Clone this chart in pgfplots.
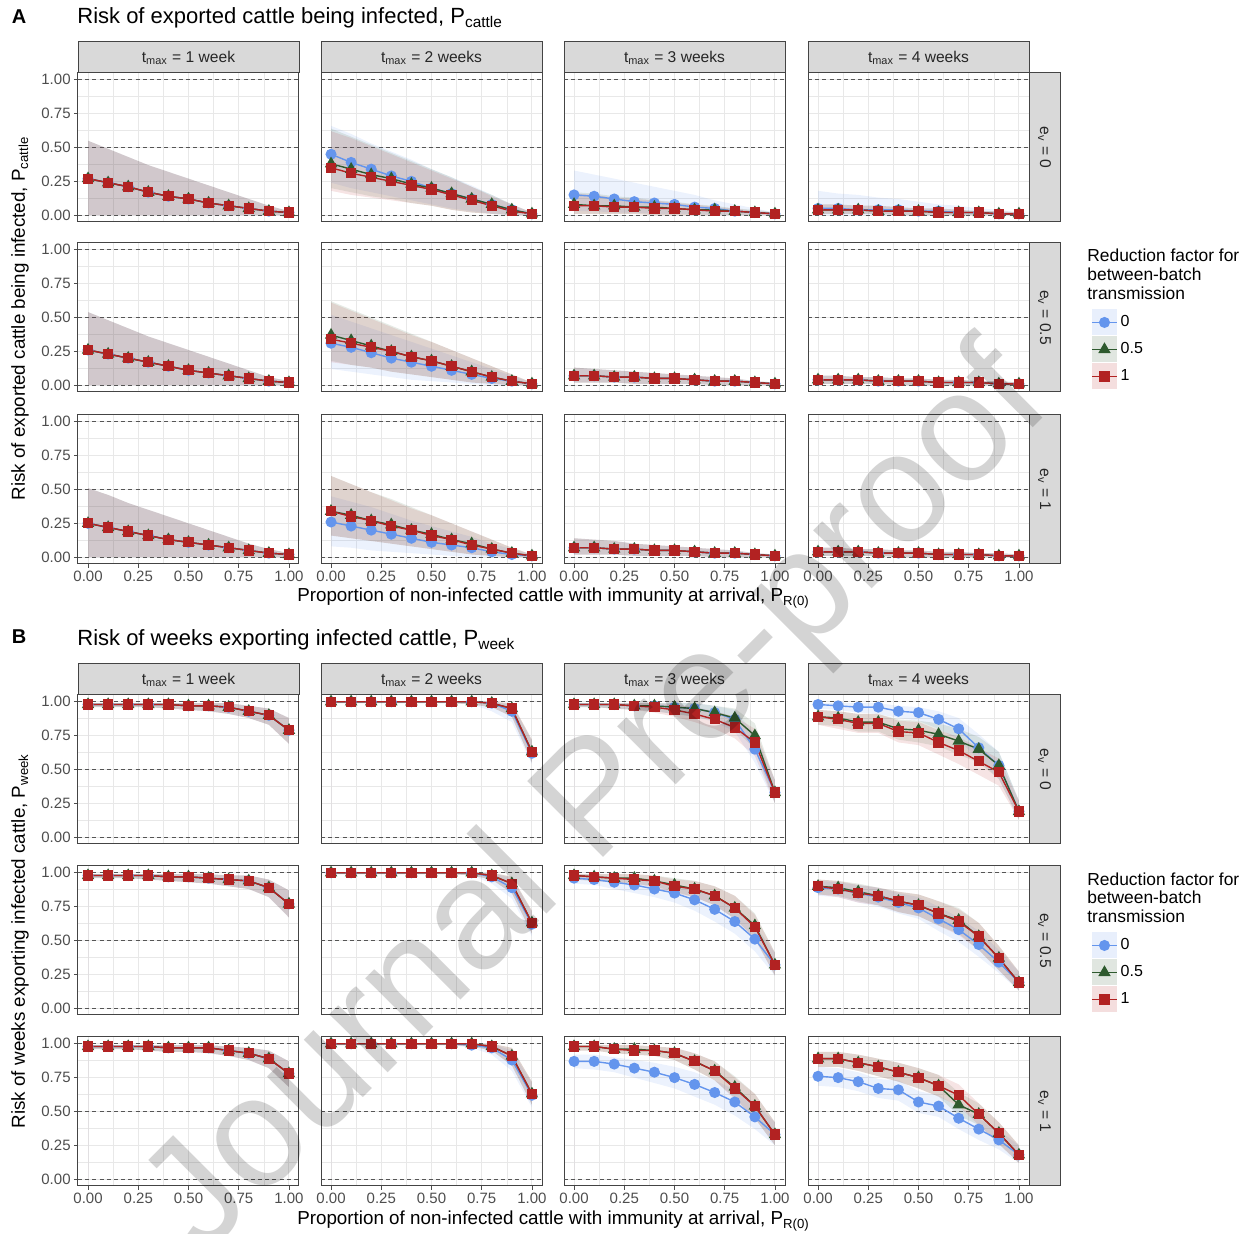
\documentclass[border=0pt]{standalone}
\usepackage{pgfplots}
\pgfplotsset{compat=1.18}
\usepackage{pgfplotstable}
\usepackage{fontspec}
\setmainfont{Liberation Sans}
\definecolor{cb}{HTML}{6495ED}
\definecolor{cg}{HTML}{2E5A2E}
\definecolor{cr}{HTML}{B22222}
\definecolor{gridc}{HTML}{E8E8E8}
\definecolor{framec}{HTML}{444444}
\definecolor{tickc}{HTML}{4D4D4D}
\definecolor{dashc}{HTML}{555555}
\definecolor{stripc}{HTML}{D9D9D9}

% ---------- Panel A data ----------
\pgfplotstableread{
x b bl bu
0.0 0.27 0.00 0.55
0.1 0.24 0.00 0.49
0.2 0.21 0.00 0.43
0.3 0.17 0.00 0.37
0.4 0.14 0.00 0.32
0.5 0.12 0.00 0.27
0.6 0.09 0.00 0.22
0.7 0.07 0.00 0.17
0.8 0.05 0.00 0.12
0.9 0.03 0.00 0.07
1.0 0.02 0.00 0.03
}\tAaa
\pgfplotstableread{
x b bl bu
0.0 0.26 0.00 0.54
0.1 0.23 0.00 0.48
0.2 0.20 0.00 0.42
0.3 0.17 0.00 0.36
0.4 0.14 0.00 0.31
0.5 0.11 0.00 0.26
0.6 0.09 0.00 0.21
0.7 0.07 0.00 0.16
0.8 0.05 0.00 0.11
0.9 0.03 0.00 0.06
1.0 0.02 0.00 0.03
}\tAba
\pgfplotstableread{
x b bl bu
0.0 0.25 0.00 0.51
0.1 0.22 0.00 0.46
0.2 0.19 0.00 0.40
0.3 0.16 0.00 0.35
0.4 0.13 0.00 0.30
0.5 0.11 0.00 0.25
0.6 0.09 0.00 0.20
0.7 0.07 0.00 0.15
0.8 0.05 0.00 0.10
0.9 0.03 0.00 0.06
1.0 0.02 0.00 0.03
}\tAca
\pgfplotstableread{
x b bl bu g gl gu r rl ru
0.0 0.45 0.24 0.66 0.38 0.20 0.64 0.35 0.18 0.62
0.1 0.39 0.20 0.60 0.34 0.17 0.58 0.31 0.15 0.57
0.2 0.34 0.17 0.53 0.30 0.14 0.52 0.28 0.13 0.51
0.3 0.29 0.14 0.47 0.27 0.12 0.46 0.25 0.11 0.45
0.4 0.25 0.11 0.41 0.23 0.09 0.40 0.22 0.09 0.39
0.5 0.20 0.08 0.34 0.20 0.07 0.34 0.19 0.07 0.33
0.6 0.16 0.05 0.28 0.16 0.04 0.28 0.15 0.04 0.27
0.7 0.12 0.03 0.22 0.12 0.02 0.21 0.11 0.02 0.21
0.8 0.08 0.01 0.15 0.08 0.01 0.15 0.07 0.01 0.14
0.9 0.04 0.00 0.08 0.04 0.00 0.08 0.03 0.00 0.08
1.0 0.01 0.00 0.02 0.01 0.00 0.02 0.01 0.00 0.02
}\tAab
\pgfplotstableread{
x b bl bu g gl gu r rl ru
0.0 0.31 0.12 0.52 0.37 0.18 0.62 0.34 0.17 0.61
0.1 0.28 0.10 0.47 0.33 0.15 0.56 0.31 0.15 0.55
0.2 0.24 0.08 0.42 0.29 0.13 0.50 0.28 0.13 0.49
0.3 0.20 0.06 0.37 0.25 0.10 0.44 0.25 0.10 0.43
0.4 0.17 0.04 0.32 0.21 0.08 0.38 0.21 0.08 0.37
0.5 0.14 0.03 0.27 0.18 0.06 0.32 0.18 0.06 0.32
0.6 0.11 0.02 0.22 0.14 0.04 0.26 0.14 0.04 0.26
0.7 0.08 0.01 0.17 0.10 0.02 0.20 0.10 0.02 0.20
0.8 0.05 0.00 0.12 0.06 0.01 0.14 0.06 0.01 0.14
0.9 0.03 0.00 0.07 0.03 0.00 0.08 0.03 0.00 0.08
1.0 0.01 0.00 0.02 0.01 0.00 0.02 0.01 0.00 0.02
}\tAbb
\pgfplotstableread{
x b bl bu g gl gu r rl ru
0.0 0.26 0.08 0.45 0.34 0.16 0.60 0.34 0.16 0.60
0.1 0.23 0.07 0.41 0.31 0.14 0.54 0.30 0.14 0.54
0.2 0.20 0.05 0.37 0.27 0.12 0.48 0.27 0.12 0.48
0.3 0.17 0.04 0.32 0.24 0.10 0.43 0.23 0.10 0.42
0.4 0.14 0.03 0.27 0.20 0.08 0.37 0.20 0.08 0.36
0.5 0.11 0.02 0.23 0.17 0.06 0.31 0.16 0.06 0.31
0.6 0.09 0.01 0.19 0.13 0.04 0.25 0.13 0.04 0.25
0.7 0.07 0.00 0.15 0.10 0.02 0.19 0.09 0.02 0.19
0.8 0.04 0.00 0.10 0.06 0.01 0.13 0.06 0.01 0.13
0.9 0.02 0.00 0.06 0.03 0.00 0.07 0.03 0.00 0.07
1.0 0.01 0.00 0.02 0.01 0.00 0.02 0.01 0.00 0.02
}\tAcb
\pgfplotstableread{
x b bl bu g gl gu r rl ru
0.0 0.15 0.03 0.33 0.08 0.01 0.17 0.07 0.01 0.16
0.1 0.14 0.03 0.30 0.07 0.01 0.16 0.07 0.01 0.15
0.2 0.12 0.02 0.27 0.07 0.01 0.14 0.06 0.01 0.13
0.3 0.10 0.02 0.24 0.06 0.01 0.13 0.06 0.01 0.12
0.4 0.09 0.01 0.21 0.06 0.00 0.11 0.05 0.00 0.11
0.5 0.08 0.01 0.18 0.05 0.00 0.10 0.05 0.00 0.09
0.6 0.06 0.01 0.15 0.04 0.00 0.08 0.04 0.00 0.08
0.7 0.05 0.00 0.11 0.04 0.00 0.07 0.03 0.00 0.06
0.8 0.03 0.00 0.08 0.03 0.00 0.05 0.03 0.00 0.05
0.9 0.02 0.00 0.05 0.02 0.00 0.04 0.02 0.00 0.03
1.0 0.01 0.00 0.02 0.01 0.00 0.02 0.01 0.00 0.02
}\tAac
\pgfplotstableread{
x b bl bu
0.0 0.07 0.02 0.13
0.1 0.07 0.02 0.12
0.2 0.06 0.02 0.11
0.3 0.06 0.01 0.10
0.4 0.05 0.01 0.09
0.5 0.05 0.01 0.08
0.6 0.04 0.01 0.07
0.7 0.03 0.00 0.06
0.8 0.03 0.00 0.05
0.9 0.02 0.00 0.03
1.0 0.01 0.00 0.02
}\tAbc
\pgfplotstableread{
x b bl bu
0.0 0.07 0.02 0.14
0.1 0.07 0.02 0.13
0.2 0.06 0.02 0.12
0.3 0.06 0.01 0.10
0.4 0.05 0.01 0.09
0.5 0.05 0.01 0.08
0.6 0.04 0.01 0.07
0.7 0.03 0.00 0.06
0.8 0.03 0.00 0.05
0.9 0.02 0.00 0.03
1.0 0.01 0.00 0.02
}\tAcc
\pgfplotstableread{
x b bl bu g gl gu r rl ru
0.0 0.05 0.00 0.18 0.04 0.01 0.08 0.04 0.01 0.08
0.1 0.05 0.00 0.16 0.04 0.01 0.08 0.04 0.01 0.08
0.2 0.04 0.00 0.15 0.04 0.01 0.07 0.04 0.01 0.07
0.3 0.04 0.00 0.13 0.03 0.01 0.07 0.03 0.01 0.07
0.4 0.04 0.00 0.12 0.03 0.00 0.06 0.03 0.00 0.06
0.5 0.03 0.00 0.10 0.03 0.00 0.05 0.03 0.00 0.05
0.6 0.03 0.00 0.08 0.02 0.00 0.05 0.02 0.00 0.05
0.7 0.02 0.00 0.07 0.02 0.00 0.04 0.02 0.00 0.04
0.8 0.02 0.00 0.05 0.02 0.00 0.03 0.02 0.00 0.03
0.9 0.01 0.00 0.04 0.01 0.00 0.03 0.01 0.00 0.03
1.0 0.01 0.00 0.02 0.01 0.00 0.02 0.01 0.00 0.02
}\tAad
\pgfplotstableread{
x b bl bu
0.0 0.04 0.01 0.07
0.1 0.04 0.01 0.07
0.2 0.04 0.01 0.06
0.3 0.03 0.01 0.06
0.4 0.03 0.00 0.05
0.5 0.03 0.00 0.05
0.6 0.02 0.00 0.04
0.7 0.02 0.00 0.04
0.8 0.02 0.00 0.03
0.9 0.01 0.00 0.03
1.0 0.01 0.00 0.02
}\tAbd

% ---------- Panel B data ----------
\pgfplotstableread{
x b bl bu
0.0 0.98 0.96 0.99
0.1 0.98 0.96 0.99
0.2 0.98 0.96 0.99
0.3 0.98 0.96 0.99
0.4 0.98 0.95 0.99
0.5 0.97 0.94 0.99
0.6 0.97 0.93 0.99
0.7 0.96 0.91 0.99
0.8 0.93 0.88 0.97
0.9 0.90 0.83 0.95
1.0 0.79 0.69 0.88
}\tBaa
\pgfplotstableread{
x b bl bu
0.0 0.98 0.96 0.99
0.1 0.98 0.96 0.99
0.2 0.98 0.96 0.99
0.3 0.98 0.95 0.99
0.4 0.97 0.94 0.99
0.5 0.97 0.93 0.99
0.6 0.96 0.92 0.99
0.7 0.95 0.90 0.98
0.8 0.94 0.88 0.98
0.9 0.89 0.82 0.95
1.0 0.77 0.67 0.87
}\tBba
\pgfplotstableread{
x b bl bu
0.0 0.98 0.96 0.99
0.1 0.98 0.96 0.99
0.2 0.98 0.96 0.99
0.3 0.98 0.95 0.99
0.4 0.97 0.94 0.99
0.5 0.97 0.94 0.99
0.6 0.97 0.93 0.99
0.7 0.95 0.91 0.98
0.8 0.93 0.88 0.97
0.9 0.89 0.82 0.95
1.0 0.78 0.68 0.87
}\tBca
\pgfplotstableread{
x b bl bu g gl gu r rl ru
0.0 1.00 0.99 1.00 1.00 0.99 1.00 1.00 0.99 1.00
0.1 1.00 0.99 1.00 1.00 0.99 1.00 1.00 0.99 1.00
0.2 1.00 0.99 1.00 1.00 0.99 1.00 1.00 0.99 1.00
0.3 1.00 0.99 1.00 1.00 0.99 1.00 1.00 0.99 1.00
0.4 1.00 0.99 1.00 1.00 0.99 1.00 1.00 0.99 1.00
0.5 1.00 0.99 1.00 1.00 0.99 1.00 1.00 0.99 1.00
0.6 1.00 0.99 1.00 1.00 0.99 1.00 1.00 0.99 1.00
0.7 1.00 0.98 1.00 1.00 0.98 1.00 1.00 0.98 1.00
0.8 0.99 0.93 1.00 0.99 0.96 1.00 0.99 0.96 1.00
0.9 0.93 0.85 0.98 0.95 0.89 0.99 0.95 0.89 0.99
1.0 0.62 0.54 0.71 0.63 0.55 0.72 0.63 0.55 0.72
}\tBab
\pgfplotstableread{
x b bl bu g gl gu r rl ru
0.0 1.00 0.99 1.00 1.00 0.99 1.00 1.00 0.99 1.00
0.1 1.00 0.99 1.00 1.00 0.99 1.00 1.00 0.99 1.00
0.2 1.00 0.99 1.00 1.00 0.99 1.00 1.00 0.99 1.00
0.3 1.00 0.99 1.00 1.00 0.99 1.00 1.00 0.99 1.00
0.4 1.00 0.99 1.00 1.00 0.99 1.00 1.00 0.99 1.00
0.5 1.00 0.99 1.00 1.00 0.99 1.00 1.00 0.99 1.00
0.6 1.00 0.99 1.00 1.00 0.99 1.00 1.00 0.99 1.00
0.7 1.00 0.98 1.00 1.00 0.98 1.00 1.00 0.98 1.00
0.8 0.97 0.92 1.00 0.98 0.95 1.00 0.98 0.95 1.00
0.9 0.89 0.81 0.96 0.92 0.85 0.97 0.92 0.85 0.97
1.0 0.62 0.53 0.71 0.63 0.55 0.72 0.63 0.55 0.72
}\tBbb
\pgfplotstableread{
x b bl bu g gl gu r rl ru
0.0 1.00 0.99 1.00 1.00 0.99 1.00 1.00 0.99 1.00
0.1 1.00 0.99 1.00 1.00 0.99 1.00 1.00 0.99 1.00
0.2 1.00 0.99 1.00 1.00 0.99 1.00 1.00 0.99 1.00
0.3 1.00 0.99 1.00 1.00 0.99 1.00 1.00 0.99 1.00
0.4 1.00 0.99 1.00 1.00 0.99 1.00 1.00 0.99 1.00
0.5 1.00 0.99 1.00 1.00 0.99 1.00 1.00 0.99 1.00
0.6 1.00 0.99 1.00 1.00 0.99 1.00 1.00 0.99 1.00
0.7 0.99 0.97 1.00 1.00 0.98 1.00 1.00 0.98 1.00
0.8 0.97 0.92 1.00 0.98 0.95 1.00 0.98 0.95 1.00
0.9 0.88 0.80 0.95 0.91 0.84 0.97 0.91 0.84 0.97
1.0 0.62 0.53 0.71 0.63 0.55 0.72 0.63 0.55 0.72
}\tBcb
\pgfplotstableread{
x b bl bu g gl gu r rl ru
0.0 0.98 0.96 0.99 0.98 0.96 0.99 0.98 0.96 0.99
0.1 0.98 0.96 0.99 0.98 0.96 0.99 0.98 0.96 0.99
0.2 0.98 0.95 0.99 0.98 0.95 0.99 0.98 0.95 0.99
0.3 0.97 0.94 0.99 0.97 0.94 0.99 0.97 0.94 0.99
0.4 0.97 0.93 0.99 0.97 0.93 0.99 0.96 0.92 0.99
0.5 0.96 0.91 0.99 0.96 0.91 0.99 0.94 0.89 0.98
0.6 0.95 0.89 0.99 0.95 0.89 0.99 0.91 0.85 0.96
0.7 0.92 0.85 0.97 0.92 0.86 0.97 0.87 0.80 0.93
0.8 0.87 0.78 0.94 0.88 0.80 0.95 0.81 0.73 0.89
0.9 0.65 0.55 0.76 0.75 0.65 0.84 0.70 0.60 0.80
1.0 0.33 0.25 0.42 0.33 0.25 0.42 0.33 0.25 0.42
}\tBac
\pgfplotstableread{
x b bl bu g gl gu r rl ru
0.0 0.96 0.92 0.99 0.98 0.95 0.99 0.98 0.95 0.99
0.1 0.95 0.91 0.98 0.97 0.94 0.99 0.97 0.94 0.99
0.2 0.93 0.88 0.97 0.96 0.93 0.99 0.96 0.93 0.99
0.3 0.91 0.85 0.96 0.96 0.92 0.99 0.95 0.92 0.99
0.4 0.88 0.82 0.94 0.94 0.90 0.98 0.94 0.89 0.98
0.5 0.85 0.78 0.92 0.91 0.86 0.96 0.90 0.85 0.95
0.6 0.80 0.72 0.88 0.88 0.82 0.94 0.88 0.82 0.94
0.7 0.73 0.64 0.82 0.83 0.76 0.90 0.83 0.76 0.90
0.8 0.64 0.55 0.74 0.74 0.66 0.83 0.74 0.66 0.83
0.9 0.51 0.42 0.61 0.61 0.52 0.70 0.60 0.51 0.69
1.0 0.32 0.24 0.41 0.32 0.24 0.41 0.32 0.24 0.41
}\tBbc
\pgfplotstableread{
x b bl bu g gl gu r rl ru
0.0 0.87 0.82 0.92 0.98 0.95 0.99 0.98 0.95 0.99
0.1 0.87 0.81 0.92 0.98 0.95 0.99 0.98 0.95 0.99
0.2 0.85 0.79 0.90 0.96 0.93 0.99 0.96 0.93 0.99
0.3 0.82 0.75 0.88 0.96 0.92 0.99 0.95 0.92 0.99
0.4 0.79 0.71 0.86 0.95 0.91 0.98 0.95 0.91 0.98
0.5 0.75 0.67 0.83 0.93 0.88 0.97 0.93 0.88 0.97
0.6 0.70 0.61 0.79 0.87 0.81 0.93 0.87 0.81 0.93
0.7 0.64 0.55 0.73 0.80 0.73 0.87 0.80 0.73 0.87
0.8 0.57 0.47 0.66 0.68 0.60 0.76 0.67 0.59 0.75
0.9 0.46 0.37 0.56 0.54 0.45 0.63 0.54 0.45 0.63
1.0 0.33 0.25 0.42 0.33 0.25 0.42 0.33 0.25 0.42
}\tBcc
\pgfplotstableread{
x b bl bu g gl gu r rl ru
0.0 0.98 0.95 0.99 0.89 0.83 0.94 0.89 0.83 0.94
0.1 0.97 0.94 0.99 0.88 0.82 0.93 0.87 0.80 0.93
0.2 0.96 0.92 0.99 0.85 0.78 0.91 0.84 0.77 0.91
0.3 0.96 0.91 0.99 0.85 0.78 0.91 0.84 0.77 0.91
0.4 0.93 0.88 0.97 0.80 0.72 0.87 0.78 0.70 0.86
0.5 0.92 0.86 0.96 0.79 0.70 0.86 0.77 0.68 0.85
0.6 0.87 0.80 0.93 0.76 0.67 0.84 0.70 0.61 0.79
0.7 0.80 0.72 0.88 0.71 0.61 0.80 0.64 0.54 0.74
0.8 0.66 0.57 0.76 0.65 0.55 0.74 0.56 0.46 0.66
0.9 0.53 0.43 0.63 0.53 0.43 0.63 0.48 0.38 0.58
1.0 0.19 0.13 0.27 0.19 0.13 0.27 0.19 0.13 0.27
}\tBad
\pgfplotstableread{
x b bl bu g gl gu r rl ru
0.0 0.89 0.83 0.94 0.90 0.84 0.95 0.90 0.84 0.95
0.1 0.88 0.82 0.93 0.89 0.83 0.94 0.88 0.82 0.94
0.2 0.85 0.78 0.91 0.86 0.79 0.92 0.85 0.78 0.91
0.3 0.82 0.75 0.89 0.83 0.76 0.89 0.83 0.76 0.89
0.4 0.78 0.70 0.85 0.79 0.71 0.86 0.79 0.71 0.86
0.5 0.74 0.66 0.82 0.76 0.68 0.84 0.76 0.68 0.84
0.6 0.66 0.57 0.75 0.70 0.61 0.79 0.70 0.61 0.79
0.7 0.58 0.49 0.67 0.65 0.55 0.74 0.64 0.54 0.73
0.8 0.47 0.38 0.57 0.53 0.43 0.63 0.53 0.43 0.63
0.9 0.34 0.26 0.43 0.37 0.28 0.46 0.37 0.28 0.46
1.0 0.19 0.13 0.27 0.19 0.13 0.27 0.19 0.13 0.27
}\tBbd
\pgfplotstableread{
x b bl bu g gl gu r rl ru
0.0 0.76 0.69 0.83 0.89 0.83 0.94 0.89 0.83 0.94
0.1 0.75 0.68 0.82 0.89 0.83 0.94 0.89 0.83 0.94
0.2 0.72 0.65 0.79 0.86 0.80 0.92 0.86 0.80 0.92
0.3 0.67 0.60 0.74 0.83 0.76 0.89 0.83 0.76 0.89
0.4 0.66 0.58 0.73 0.79 0.72 0.86 0.79 0.72 0.86
0.5 0.57 0.49 0.65 0.75 0.67 0.82 0.75 0.67 0.82
0.6 0.54 0.46 0.62 0.69 0.61 0.77 0.69 0.61 0.77
0.7 0.45 0.37 0.53 0.55 0.47 0.64 0.62 0.54 0.70
0.8 0.37 0.29 0.45 0.48 0.40 0.56 0.48 0.40 0.56
0.9 0.29 0.22 0.36 0.34 0.26 0.42 0.34 0.26 0.42
1.0 0.18 0.12 0.25 0.18 0.12 0.25 0.18 0.12 0.25
}\tBcd

\pgfplotsset{
  facet/.style={
    anchor=north west, scale only axis, width=110.5pt, height=74.5pt,
    xmin=-0.05, xmax=1.05, ymin=-0.05, ymax=1.05,
    xtick={0,0.25,0.5,0.75,1}, ytick={0,0.25,0.5,0.75,1},
    minor xtick={0.125,0.375,0.625,0.875}, minor ytick={0.125,0.375,0.625,0.875},
    grid=both,
    major grid style={draw=gridc, line width=0.5pt},
    minor grid style={draw=gridc, line width=0.25pt},
    axis line style={draw=framec, line width=0.5pt},
    tick align=outside, major tick length=2pt, minor tick length=0pt,
    xtick pos=left, ytick pos=left,
    xticklabels={}, yticklabels={},
    xtick style={draw=none}, ytick style={draw=none},
    ticklabel style={font=\fontsize{7.5}{8}\selectfont, text=tickc, inner sep=1.5pt},
    extra y ticks={0,0.5,1}, extra y tick labels={},
    extra y tick style={grid=major, major grid style={draw=dashc, dash pattern=on 2pt off 1.6pt, line width=0.5pt}, ytick style={draw=none}},
  },
  yl/.style={yticklabels={0.00,0.25,0.50,0.75,1.00}, ytick style={draw=tickc, line width=0.4pt}},
  xl/.style={xticklabels={0.00,0.25,0.50,0.75,1.00}, xtick style={draw=tickc, line width=0.4pt}},
  sb/.style={cb, line width=0.7pt, mark=*, mark size=2.4pt},
  sg/.style={cg, line width=0.7pt, mark=triangle*, mark size=2.9pt},
  sr/.style={cr, line width=0.7pt, mark=square*, mark size=2.2pt},
  leg/.style={legend entries={0,0.5,1},
    legend style={at={(1.28,0.56)}, anchor=north west, draw=none, fill=none,
      inner sep=0pt, row sep=0pt, font=\fontsize{8}{9}\selectfont,
      nodes={inner sep=1.5pt, minimum height=13.5pt}},
    legend cell align=left,
    legend image code/.code={%
      \fill[##1, draw=none, fill opacity=0.15] (0pt,-6.5pt) rectangle (12.5pt,6.5pt);
      \draw[##1, mark repeat=2, mark phase=2] plot coordinates {(0pt,0pt) (6.25pt,0pt) (12.5pt,0pt)};}},
}

% build a closed ribbon polygon (upper bound forward, lower bound backward) from a table
\newcommand{\mkpoly}[4]{%
  \gdef\pF{}\gdef\pB{}%
  \pgfplotstablegetrowsof{#1}\pgfmathtruncatemacro\nr{\pgfplotsretval-1}%
  \foreach \i in {0,...,\nr}{%
    \pgfplotstablegetelem{\i}{x}\of{#1}\let\xx\pgfplotsretval
    \pgfplotstablegetelem{\i}{#2u}\of{#1}\let\yu\pgfplotsretval
    \pgfplotstablegetelem{\i}{#2l}\of{#1}\let\yl\pgfplotsretval
    \xdef\pF{\pF(\xx,\yu)}%
    \xdef\pB{(\xx,\yl)\pB}%
  }%
  \expandafter\xdef\csname #4\endcsname{\noexpand\addplot[fill=#3, fill opacity=0.12, draw=none, forget plot] coordinates {\pF\pB} \noexpand\closedcycle;}%
}

\newcommand{\facetG}[7]{%
  \mkpoly{#3}{#5}{cb}{ribA}\mkpoly{#3}{#6}{cg}{ribB}\mkpoly{#3}{#7}{cr}{ribC}%
  \begin{axis}[facet, at={(#1,#2)}, #4]
  \ribA\ribB\ribC
  \addplot[sb] table[x=x,y=#5]{#3};
  \addplot[sg] table[x=x,y=#6]{#3};
  \addplot[sr] table[x=x,y=#7]{#3};
  \end{axis}}
\newcommand{\facet}[4]{\facetG{#1}{#2}{#3}{#4}{b}{g}{r}}
\newcommand{\facetS}[4]{\facetG{#1}{#2}{#3}{#4}{b}{b}{b}}

\begin{document}
\begin{tikzpicture}
\useasboundingbox (0,0) rectangle (624.5pt,-617pt);

% ---------------- Panel A ----------------
\facetS{39pt}{-36.5pt}{\tAaa}{yl}
\facet{160.5pt}{-36.5pt}{\tAab}{}
\facet{282pt}{-36.5pt}{\tAac}{}
\facet{404pt}{-36.5pt}{\tAad}{}
\facetS{39pt}{-121.5pt}{\tAba}{yl}
\facet{160.5pt}{-121.5pt}{\tAbb}{}
\facetS{282pt}{-121.5pt}{\tAbc}{}
\facetS{404pt}{-121.5pt}{\tAbd}{leg}
\facetS{39pt}{-207.5pt}{\tAca}{yl,xl}
\facet{160.5pt}{-207.5pt}{\tAcb}{xl}
\facetS{282pt}{-207.5pt}{\tAcc}{xl}
\facetS{404pt}{-207.5pt}{\tAbd}{xl}

% ---------------- Panel B ----------------
\facetS{39pt}{-347.5pt}{\tBaa}{yl}
\facet{160.5pt}{-347.5pt}{\tBab}{}
\facet{282pt}{-347.5pt}{\tBac}{}
\facet{404pt}{-347.5pt}{\tBad}{}
\facetS{39pt}{-433pt}{\tBba}{yl}
\facet{160.5pt}{-433pt}{\tBbb}{}
\facet{282pt}{-433pt}{\tBbc}{}
\facet{404pt}{-433pt}{\tBbd}{leg}
\facetS{39pt}{-518.5pt}{\tBca}{yl,xl}
\facet{160.5pt}{-518.5pt}{\tBcb}{xl}
\facet{282pt}{-518.5pt}{\tBcc}{xl}
\facet{404pt}{-518.5pt}{\tBcd}{xl}

% ---------------- strips ----------------
\foreach \yt in {-21pt,-332pt}{
  \foreach \xl/\lab in {39pt/{t\textsubscript{max} = 1 week},160.5pt/{t\textsubscript{max} = 2 weeks},282pt/{t\textsubscript{max} = 3 weeks},404pt/{t\textsubscript{max} = 4 weeks}}{
    \filldraw[fill=stripc, draw=framec, line width=0.5pt] (\xl,\yt) rectangle ++(110.5pt,-15.5pt);
    \node[font=\fontsize{7.8}{8.5}\selectfont, text=black!85] at ([shift={(55.25pt,-7.75pt)}]\xl,\yt) {\lab};
  }
}
\foreach \yt in {-36.5pt,-121.5pt,-207.5pt,-347.5pt,-433pt,-518.5pt}{
  \filldraw[fill=stripc, draw=framec, line width=0.5pt] (514.5pt,\yt) rectangle ++(15.5pt,-74.5pt);
}
\foreach \yt/\lab in {-36.5pt/0,-121.5pt/0.5,-207.5pt/1,-347.5pt/0,-433pt/0.5,-518.5pt/1}{
  \node[rotate=-90, font=\fontsize{7.8}{8.5}\selectfont, text=black!85] at ([shift={(7.75pt,-37.25pt)}]514.5pt,\yt) {e\textsubscript{v} = \lab};
}

% ---------------- titles and labels ----------------
\node[font=\fontsize{10}{12}\selectfont\bfseries] at (9.5pt,-8.5pt) {A};
\node[font=\fontsize{11}{13}\selectfont, anchor=west, inner sep=0pt] at (38.5pt,-9pt) {Risk of exported cattle being infected, P\textsubscript{cattle}};
\node[font=\fontsize{10}{12}\selectfont\bfseries] at (9.5pt,-318.5pt) {B};
\node[font=\fontsize{11}{13}\selectfont, anchor=west, inner sep=0pt] at (38.5pt,-320pt) {Risk of weeks exporting infected cattle, P\textsubscript{week}};

\node[font=\fontsize{9.4}{11}\selectfont] at (276.75pt,-299pt) {Proportion of non-infected cattle with immunity at arrival, P\textsubscript{R(0)}};
\node[font=\fontsize{9.4}{11}\selectfont] at (276.75pt,-610.5pt) {Proportion of non-infected cattle with immunity at arrival, P\textsubscript{R(0)}};
\node[rotate=90, font=\fontsize{9.4}{11}\selectfont] at (10pt,-159.25pt) {Risk of exported cattle being infected, P\textsubscript{cattle}};
\node[rotate=90, font=\fontsize{9.4}{11}\selectfont] at (10pt,-470.5pt) {Risk of weeks exporting infected cattle, P\textsubscript{week}};

% legend titles
\node[font=\fontsize{8.7}{9.3}\selectfont, anchor=north west, align=left, inner sep=0pt] at (543.5pt,-124.5pt) {Reduction factor for\\between-batch\\transmission};
\node[font=\fontsize{8.7}{9.3}\selectfont, anchor=north west, align=left, inner sep=0pt] at (543.5pt,-436pt) {Reduction factor for\\between-batch\\transmission};

% watermark
\node[rotate=45, font=\fontsize{78}{80}\selectfont, text=black, text opacity=0.17] at (300pt,-402pt) {Journal Pre-proof};
\end{tikzpicture}
\end{document}
